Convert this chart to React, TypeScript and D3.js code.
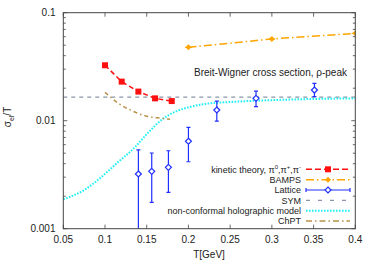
import React from "react";
import * as d3 from "d3";

const W = 374, H = 262;

const kineticT = [0.1, 0.12, 0.14, 0.16, 0.18];
const kineticV = [0.0326, 0.0230, 0.0186, 0.0161, 0.0152];

const bampsT = [0.2, 0.3, 0.4];
const bampsV = [0.0478, 0.0571, 0.0644];

const latticeT = [0.14, 0.156, 0.176, 0.2, 0.234, 0.281, 0.351];
const latticeV = [0.00321, 0.0034, 0.0037, 0.00645, 0.01256, 0.0161, 0.01923];
const latticeLo = [0.0009, 0.00175, 0.00217, 0.00417, 0.00993, 0.0135, 0.0167];
const latticeHi = [0.00536, 0.00502, 0.00527, 0.00869, 0.0152, 0.0188, 0.0222];

const symV = 0.0165;

const holoT = [0.05, 0.075, 0.095, 0.115, 0.135, 0.15, 0.17, 0.185, 0.2, 0.22, 0.25, 0.3, 0.35, 0.4];
const holoV = [0.00187, 0.00228, 0.00298, 0.0041, 0.0056, 0.0075, 0.0105, 0.0122, 0.0133, 0.0143, 0.0149, 0.0155, 0.0159, 0.0161];

const chptT = [0.1, 0.116, 0.132, 0.148, 0.168, 0.178];
const chptV = [0.0183, 0.0145, 0.0124, 0.0111, 0.01052, 0.0103];

const xTicks = [0.05, 0.1, 0.15, 0.2, 0.25, 0.3, 0.35, 0.4];
const xTickLabels = ["0.05", "0.1", "0.15", "0.2", "0.25", "0.3", "0.35", "0.4"];
const yTicks = [0.001, 0.01, 0.1];
const yTickLabels = ["0.001", "0.01", "0.1"];

const RED = "#ff1010";
const ORANGE = "#ffa500";
const BLUE = "#1f2fff";
const GRAY = "#8a96aa";
const CYAN = "#1ff0f5";
const BROWN = "#b8924a";
const FONT = "Liberation Sans, Arial, sans-serif";
const TXT = "#222";

export default function App() {
  const L = 63.3, R = 355.3, T = 12.7, B = 228.7;
  const x = d3.scaleLinear().domain([0.05, 0.4]).range([L, R]);
  const y = d3.scaleLog().domain([0.001, 0.1]).range([B, T]);

  const lin = d3.line<[number, number]>().x(d => x(d[0])).y(d => y(d[1]));
  const smooth = d3.line<[number, number]>().x(d => x(d[0])).y(d => y(d[1])).curve(d3.curveMonotoneX);

  const minorY: number[] = [];
  for (const dec of [0.001, 0.01]) for (let k = 2; k <= 9; k++) minorY.push(dec * k);

  const kin = kineticT.map((t, i) => [t, kineticV[i]] as [number, number]);
  const bam = bampsT.map((t, i) => [t, bampsV[i]] as [number, number]);
  const holo = holoT.map((t, i) => [t, holoV[i]] as [number, number]);
  const chpt = chptT.map((t, i) => [t, chptV[i]] as [number, number]);

  const legendRows = [
    { label: "kinetic theory, ", kind: "kin" },
    { label: "BAMPS", kind: "bamps" },
    { label: "Lattice", kind: "lat" },
    { label: "SYM", kind: "sym" },
    { label: "non-conformal holographic model", kind: "holo" },
    { label: "ChPT", kind: "chpt" },
  ];
  const legY0 = 169.3, legDy = 10.35, legTextX = 301, legL1 = 306, legL2 = 350, legM = 328;

  const diamond = (cx: number, cy: number, s: number) =>
    `M${cx},${cy - s}L${cx + s},${cy}L${cx},${cy + s}L${cx - s},${cy}Z`;

  return (
    <svg width={W} height={H} style={{ position: "fixed", left: 0, top: 0, background: "#fff" }}
      fontFamily={FONT}>
      <defs>
        <clipPath id="plotclip">
          <rect x={L} y={T} width={R - L} height={B - T} />
        </clipPath>
      </defs>
      <rect x={0} y={0} width={W} height={H} fill="#fff" />

      {/* ticks */}
      {xTicks.map((t, i) => (
        <g key={"xt" + i}>
          <line x1={x(t)} x2={x(t)} y1={B} y2={B - 4} stroke="#444" strokeWidth={0.8} />
          <line x1={x(t)} x2={x(t)} y1={T} y2={T + 4} stroke="#444" strokeWidth={0.8} />
          <text x={x(t)} y={242.5} fontSize={10} textAnchor="middle" fill={TXT}>{xTickLabels[i]}</text>
        </g>
      ))}
      {yTicks.map((t, i) => (
        <g key={"yt" + i}>
          <line x1={L} x2={L + 4} y1={y(t)} y2={y(t)} stroke="#444" strokeWidth={0.8} />
          <line x1={R} x2={R - 4} y1={y(t)} y2={y(t)} stroke="#444" strokeWidth={0.8} />
          <text x={55.5} y={y(t) + 3.5} fontSize={10} textAnchor="end" fill={TXT}>{yTickLabels[i]}</text>
        </g>
      ))}
      {minorY.map((t, i) => (
        <g key={"ym" + i}>
          <line x1={L} x2={L + 2.5} y1={y(t)} y2={y(t)} stroke="#444" strokeWidth={0.8} />
          <line x1={R} x2={R - 2.5} y1={y(t)} y2={y(t)} stroke="#444" strokeWidth={0.8} />
        </g>
      ))}

      <g clipPath="url(#plotclip)">
        {/* SYM */}
        <line x1={L} x2={R} y1={y(symV)} y2={y(symV)} stroke={GRAY} strokeWidth={1.3} strokeDasharray="4,4" />
        {/* holographic */}
        <path d={smooth(holo) || ""} fill="none" stroke={CYAN} strokeWidth={2} strokeDasharray="1.6,1.4" />
        {/* ChPT */}
        <path d={smooth(chpt) || ""} fill="none" stroke={BROWN} strokeWidth={1.5} strokeDasharray="4,3,1.5,3" />
        {/* kinetic */}
        <path d={lin(kin) || ""} fill="none" stroke={RED} strokeWidth={1.5} strokeDasharray="5,3" />
        {kin.map((d, i) => (
          <rect key={"k" + i} x={x(d[0]) - 3} y={y(d[1]) - 3} width={6} height={6} fill={RED} />
        ))}
        {/* BAMPS */}
        <path d={lin(bam) || ""} fill="none" stroke={ORANGE} strokeWidth={1.5} strokeDasharray="8,3,1.5,3" />
        {bam.map((d, i) => (
          <g key={"b" + i}>
            <path d={diamond(x(d[0]), y(d[1]), 3)} fill={ORANGE} />
            <line x1={x(d[0]) - 3.5} x2={x(d[0]) + 3.5} y1={y(d[1])} y2={y(d[1])} stroke={ORANGE} strokeWidth={1} />
          </g>
        ))}
        {/* Lattice */}
        {latticeT.map((t, i) => {
          const cx = x(t), cy = y(latticeV[i]);
          const yl = y(latticeLo[i]), yh = y(latticeHi[i]);
          return (
            <g key={"l" + i} stroke={BLUE} strokeWidth={1.2} fill="none">
              <line x1={cx} x2={cx} y1={yh} y2={cy - 3} />
              <line x1={cx} x2={cx} y1={cy + 3} y2={yl} />
              <line x1={cx - 2} x2={cx + 2} y1={yh} y2={yh} />
              <line x1={cx - 2} x2={cx + 2} y1={yl} y2={yl} />
              <path d={diamond(cx, cy, 3)} fill="#fff" />
            </g>
          );
        })}
      </g>

      {/* frame */}
      <rect x={L} y={T} width={R - L} height={B - T} fill="none" stroke="#444" strokeWidth={1} />

      {/* annotation */}
      <text x={347} y={75.5} fontSize={10} textAnchor="end" fill={TXT}>Breit-Wigner cross section, ρ-peak</text>

      {/* legend */}
      {legendRows.map((r, i) => {
        const cy = legY0 + i * legDy;
        let sample: React.ReactNode = null;
        if (r.kind === "kin") {
          sample = (<g>
            <line x1={legL1} x2={legL2} y1={cy} y2={cy} stroke={RED} strokeWidth={1.5} strokeDasharray="6,3" />
            <rect x={legM - 3} y={cy - 3} width={6} height={6} fill={RED} />
          </g>);
        } else if (r.kind === "bamps") {
          sample = (<g>
            <line x1={legL1} x2={legL2} y1={cy} y2={cy} stroke={ORANGE} strokeWidth={1.5} strokeDasharray="8,3,1.5,3" />
            <path d={diamond(legM, cy, 3)} fill={ORANGE} />
          </g>);
        } else if (r.kind === "lat") {
          sample = (<g stroke={BLUE} strokeWidth={1.2} fill="none">
            <line x1={legL1} x2={legL2} y1={cy} y2={cy} />
            <line x1={legL1} x2={legL1} y1={cy - 2} y2={cy + 2} />
            <line x1={legL2} x2={legL2} y1={cy - 2} y2={cy + 2} />
            <path d={diamond(legM, cy, 3)} fill="#fff" />
          </g>);
        } else if (r.kind === "sym") {
          sample = <line x1={legL1} x2={legL2} y1={cy} y2={cy} stroke={GRAY} strokeWidth={1.3} strokeDasharray="4,8" />;
        } else if (r.kind === "holo") {
          sample = <line x1={legL1} x2={legL2} y1={cy} y2={cy} stroke={CYAN} strokeWidth={2} strokeDasharray="1.6,1.4" />;
        } else {
          sample = <line x1={legL1} x2={legL2} y1={cy} y2={cy} stroke={BROWN} strokeWidth={1.5} strokeDasharray="6,3,1.5,3" />;
        }
        return (
          <g key={"lg" + i}>
            {r.kind === "kin" ? (
              <text x={legTextX} y={cy + 3.2} fontSize={9} textAnchor="end" fill={TXT}>
                kinetic theory, π<tspan fontSize={6} dy={-3.5}>0</tspan>
                <tspan dy={3.5}>,π</tspan><tspan fontSize={6} dy={-3.5}>+</tspan>
                <tspan dy={3.5}>,π</tspan><tspan fontSize={6} dy={-3.5}>-</tspan>
              </text>
            ) : (
              <text x={legTextX} y={cy + 3.2} fontSize={9} textAnchor="end" fill={TXT}>{r.label}</text>
            )}
            {sample}
          </g>
        );
      })}

      {/* axis labels */}
      <text x={209} y={258} fontSize={10} textAnchor="middle" fill={TXT}>T[GeV]</text>
      <text transform="translate(11,117) rotate(-90)" fontSize={10} textAnchor="middle" fill={TXT}>
        σ<tspan fontSize={7} dy={2.5}>el</tspan><tspan dy={-2.5}>/T</tspan>
      </text>
    </svg>
  );
}
